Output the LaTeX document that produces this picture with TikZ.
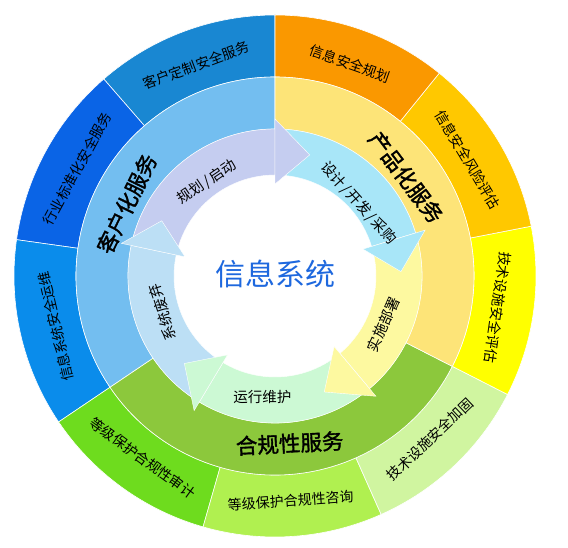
\documentclass[tikz,border=0pt]{standalone}
\usepackage{fontspec}
\setmainfont{Noto Sans CJK SC}
\newfontfamily\grpfont{Noto Sans CJK SC}[FakeBold=1.6]
\usepackage{tikz}

\definecolor{khdz}{HTML}{1987D2}
\definecolor{hybz}{HTML}{0A64E6}
\definecolor{xtyw}{HTML}{0A8CEB}
\definecolor{djsj}{HTML}{6EDC1E}
\definecolor{djzx}{HTML}{B0F050}
\definecolor{jsjg}{HTML}{D0F5A0}
\definecolor{jspg}{HTML}{FFFF00}
\definecolor{fxpg}{HTML}{FFC800}
\definecolor{aqgh}{HTML}{FA9800}
\definecolor{khmid}{HTML}{73BEF0}
\definecolor{hgmid}{HTML}{8CC83C}
\definecolor{cpmid}{HTML}{FDE478}
\definecolor{ghqd}{HTML}{C5CDF0}
\definecolor{sjkf}{HTML}{A8E6F8}
\definecolor{ssbs}{HTML}{FDF9A0}
\definecolor{yxwh}{HTML}{CCF9D4}
\definecolor{xtfq}{HTML}{BCDFF5}
\definecolor{center}{HTML}{1E68DE}

\tikzset{
	sector/.style={draw=white, line width=0.6pt},
	flow/.style={draw=white, line width=0.4pt},
	outerlbl/.style={font=\fontsize{14}{15}\selectfont, inner sep=0pt},
	grouplbl/.style={font=\fontsize{21.5}{23}\selectfont\grpfont, inner sep=0pt},
	arrowlbl/.style={font=\fontsize{14.5}{15}\selectfont, inner sep=0pt}
}
% ring piece: style, colour, start angle, end angle, inner radius, outer radius
\newcommand{\ringseg}[6]{\filldraw[#1, fill=#2] (#3:#5) arc[start angle=#3, end angle=#4, radius=#5] -- (#4:#6) arc[start angle=#4, end angle=#3, radius=#6] -- cycle;}
% arrow head: colour, base angle, tip angle
\newcommand{\ringhead}[3]{\filldraw[flow, fill=#1] (#2:157) -- (#3:126) -- (#2:92) -- cycle;}
\newcommand{\sep}{\kern1.5pt/\kern1.5pt}

\begin{document}
\begin{tikzpicture}[x=1pt, y=1pt]
	\useasboundingbox (0,0) rectangle (568,548);
	\begin{scope}[shift={(275,272)}]
	\coordinate (o) at (0,0);
	% outer ring
	\foreach \c/\a/\b in {khdz/90/131, hybz/131/172, xtyw/172/214, djsj/214/254, djzx/254/294, jsjg/294/333, jspg/333/371, fxpg/11/51, aqgh/51/90}
		{\ringseg{sector}{\c}{\a}{\b}{199}{261}}
	% middle ring
	\foreach \c/\a/\b in {khmid/90/214, hgmid/214/333, cpmid/333/450}
		{\ringseg{sector}{\c}{\a}{\b}{147}{199}}
	% life cycle arrows
	\foreach \c/\a/\b in {ghqd/90/168, sjkf/17/90, ssbs/-50/17, yxwh/-121/-50, xtfq/-192/-121}
		{\ringseg{flow}{\c}{\a}{\b}{101}{147}}
	\foreach \c/\a/\b in {ghqd/90/74, sjkf/17/2, ssbs/-50/-67, yxwh/-121/-136, xtfq/-192/-206}
		{\ringhead{\c}{\a}{\b}}

	\foreach \a/\r/\t [count=\i] in {110.5/20.5/客户定制安全服务, 151.5/61.5/行业标准化安全服务, 193/103/信息系统安全运维, 234/324/等级保护合规性审计, 274/4/等级保护合规性咨询, 313.5/43.5/技术设施安全加固, 352/-98/技术设施安全评估, 31/-59/信息安全风险评估, 70.5/-19.5/信息安全规划}
		\node[outerlbl, rotate=\r] (svc\i) at (\a:225) {\t};

	\node[grouplbl, rotate=64] (khh) at (154:165) {客户化服务};
	\node[grouplbl, rotate=-53] (cph) at (37:164) {产品化服务};
	\node[grouplbl, rotate=3] (hgx) at (-85:168) {合规性服务};

	\node[arrowlbl, rotate=34] (ghqd) at (126:116) {规划\sep 启动};
	\node[arrowlbl, rotate=-48] (sjkf) at (41:111) {设计\sep 开发\sep 采购};
	\node[arrowlbl, rotate=66] (ssbs) at (-24:119) {实施部署};
	\node[arrowlbl] (yxwh) at (-96:122) {运行维护};
	\node[arrowlbl, rotate=108] (xtfq) at (198:118) {系统废弃};

	\node[font=\fontsize{30}{32}\selectfont, text=center] (xxxt) at (0,2) {信息系统};
	\end{scope}
\end{tikzpicture}
\end{document}
